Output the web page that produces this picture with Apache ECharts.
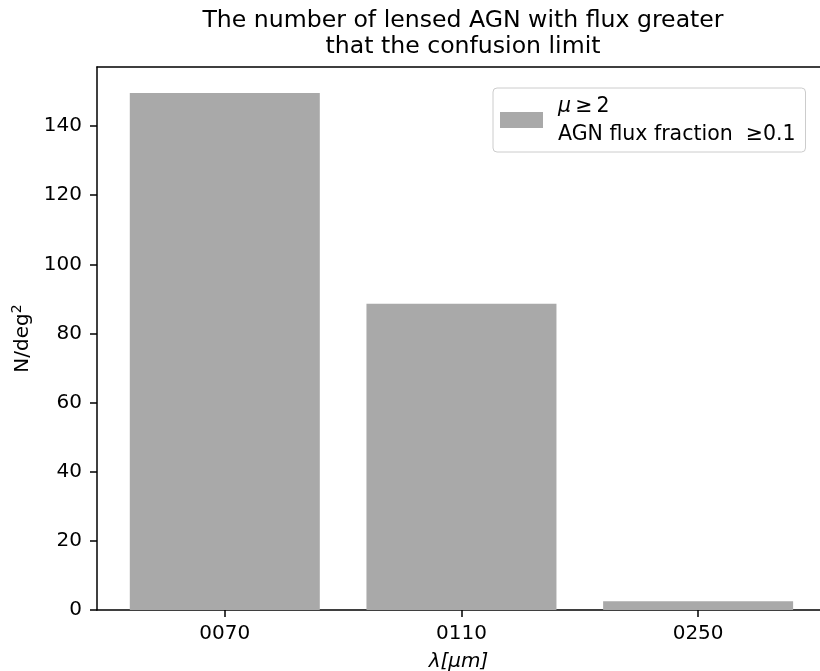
<!DOCTYPE html>
<html>
<head>
<meta charset="utf-8">
<script src="https://cdn.jsdelivr.net/npm/echarts@6/dist/echarts.min.js"></script>
<style>html,body{margin:0;padding:0;background:#fff}#chart{width:820px;height:671px}</style>
</head>
<body>
<div id="chart"></div>
<script>
const categories = ['0070', '0110', '0250'];
const positions = [0, 1, 2];
const counts = [149.6, 88.6, 2.5];
const yTicks = [0, 20, 40, 60, 80, 100, 120, 140];
const titleText = 'The number of lensed AGN with flux greater\nthat the confusion limit';
const seriesName = 'mu';

const font = 'DejaVu Sans';
const chart = echarts.init(document.getElementById('chart'), null, {renderer: 'canvas'});
const barData = positions.map((p, i) => [p, counts[i]]);

chart.setOption({
  animation: false,
  backgroundColor: '#ffffff',
  title: {
    text: titleText,
    left: 458,
    textAlign: 'center',
    top: 3,
    textStyle: {fontFamily: font, fontSize: 23.6, fontWeight: 'normal', color: '#000', lineHeight: 26}
  },
  legend: {
    show: true,
    left: 493,
    top: 88,
    orient: 'vertical',
    padding: [3, 10, 3, 7],
    backgroundColor: '#fff',
    borderColor: '#cccccc',
    borderWidth: 1,
    borderRadius: 4,
    itemWidth: 43,
    itemHeight: 16,
    icon: 'rect',
    data: [seriesName],
    formatter: function () { return '{it|μ}\u2009≥\u20092\nAGN flux fraction  ≥0.1'; },
    textStyle: {
      fontFamily: font, fontSize: 20.5, color: '#000', lineHeight: 28, padding: [2, 0, 0, 10],
      rich: {it: {fontStyle: 'italic', fontFamily: font, fontSize: 20.5, lineHeight: 28}}
    }
  },
  grid: {left: 97, right: 0, top: 67, bottom: 61, containLabel: false, outerBoundsMode: 'none'},
  xAxis: [{
    type: 'value',
    min: -0.54,
    max: 2.515,
    splitLine: {show: false},
    axisLine: {show: true, onZero: false, lineStyle: {color: '#000', width: 1.5}},
    axisTick: {show: true, customValues: positions, length: 7, lineStyle: {color: '#000', width: 1.5}},
    axisLabel: {
      customValues: positions,
      formatter: function (v) { const i = positions.indexOf(Math.round(v)); return i >= 0 ? categories[i] : ''; },
      fontFamily: font, fontSize: 20, color: '#000', margin: 14
    },
    name: 'λ[μm]',
    nameLocation: 'middle',
    nameGap: 42,
    nameTextStyle: {fontFamily: font, fontSize: 20, fontStyle: 'italic', color: '#000'}
  }, {
    type: 'value',
    position: 'top',
    min: -0.54,
    max: 2.515,
    splitLine: {show: false},
    axisLine: {show: true, onZero: false, lineStyle: {color: '#000', width: 1.5}},
    axisTick: {show: false},
    axisLabel: {show: false}
  }],
  yAxis: {
    type: 'value',
    min: 0,
    max: 157.1,
    interval: 20,
    splitLine: {show: false},
    axisLine: {show: true, onZero: false, lineStyle: {color: '#000', width: 1.5}},
    axisTick: {show: true, customValues: yTicks, length: 7, lineStyle: {color: '#000', width: 1.5}},
    axisLabel: {customValues: yTicks, fontFamily: font, fontSize: 20, color: '#000', margin: 15},
    name: 'N/deg{sup|2}',
    nameLocation: 'middle',
    nameGap: 61,
    nameRotate: 90,
    nameTextStyle: {
      fontFamily: font, fontSize: 20, color: '#000',
      rich: {sup: {fontFamily: font, fontSize: 14, verticalAlign: 'top', padding: [0, 0, 12, 0]}}
    }
  },
  series: [{
    name: seriesName,
    type: 'bar',
    xAxisIndex: 0,
    data: barData,
    barWidth: 190,
    itemStyle: {color: '#a9a9a9'}
  }]
});
</script>
</body>
</html>
